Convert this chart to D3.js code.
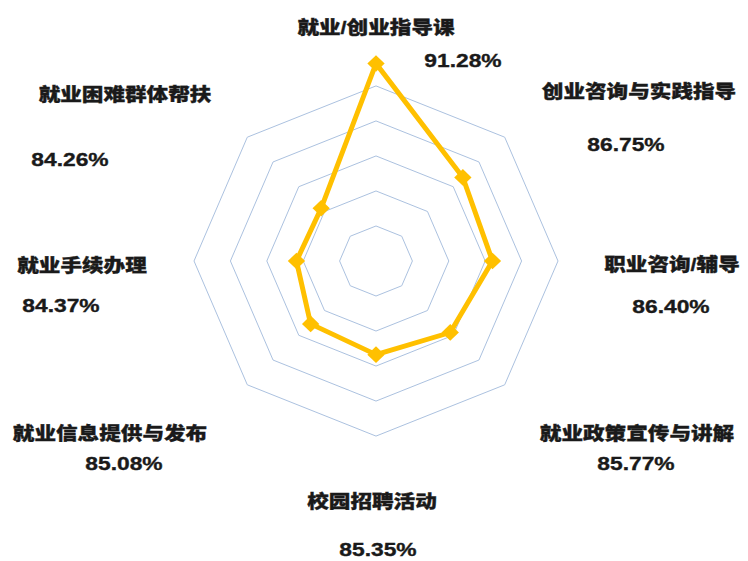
<!DOCTYPE html>
<html>
<head>
<meta charset="utf-8">
<script src="https://cdn.jsdelivr.net/npm/d3@7"></script>
<style>
  html, body { margin: 0; padding: 0; background: #fff; }
  text { font-family: "Liberation Sans", "Noto Sans CJK SC", sans-serif; font-weight: 900; fill: #1a1a1a; stroke: #1a1a1a; stroke-width: 0.35px; }
</style>
</head>
<body>
<div id="root"></div>
<script>
// 数据
var categories = ["就业/创业指导课", "创业咨询与实践指导", "职业咨询/辅导", "就业政策宣传与讲解",
    "校园招聘活动", "就业信息提供与发布", "就业手续办理", "就业困难群体帮扶"];
var values = [91.28, 86.75, 86.40, 85.77, 85.35, 85.08, 84.37, 84.26];
var ringTicks = [82, 84, 86, 88, 90];

// 标签位置（名称中心 x,y / 数值中心 x,y）
var labelPos = [
    [376, 28, 463, 60],
    [639, 92, 626, 144],
    [672, 265, 671, 306],
    [637, 434, 636, 463],
    [372, 502, 378, 549],
    [110, 434, 124, 463],
    [82, 266, 61, 305],
    [125, 95, 70, 159]
];

var width = 748,
    height = 561,
    cx = 376,
    cy = 261;

var svg = d3.select("#root")
    .append("svg")
    .attr("width", width)
    .attr("height", height);

var r = d3.scaleLinear()
    .domain([80, 90])
    .range([0, 182]);

var angle = d3.scalePoint()
    .domain(d3.range(categories.length + 1))
    .range([0, 2 * Math.PI]);

var chart = svg.append("g")
    .attr("transform", "translate(" + cx + "," + cy + ") scale(1,0.962)");

// 网格八边形
var ring = d3.lineRadial()
    .angle(function (d, i) { return angle(i); })
    .radius(function (d) { return r(d); })
    .curve(d3.curveLinearClosed);

chart.append("g")
    .selectAll("path")
    .data(ringTicks)
    .enter()
    .append("path")
    .attr("d", function (t) {
        return ring(categories.map(function () { return t; }));
    })
    .attr("fill", "none")
    .attr("stroke", "#a9c0de")
    .attr("stroke-width", 1);

// 数据折线
var line = d3.lineRadial()
    .angle(function (d, i) { return angle(i); })
    .radius(function (d) { return r(d); })
    .curve(d3.curveLinearClosed);

chart.append("path")
    .datum(values)
    .attr("d", line)
    .attr("fill", "none")
    .attr("stroke", "#ffc000")
    .attr("stroke-width", 5)
    .attr("stroke-linejoin", "round");

chart.append("g")
    .selectAll("path")
    .data(values)
    .enter()
    .append("path")
    .attr("d", d3.symbol().type(d3.symbolSquare).size(150))
    .attr("transform", function (d, i) {
        var a = angle(i);
        return "translate(" + (r(d) * Math.sin(a)) + "," + (-r(d) * Math.cos(a)) + ") rotate(45)";
    })
    .attr("fill", "#ffc000");

// 标签
var labels = svg.append("g")
    .selectAll("g")
    .data(categories)
    .enter()
    .append("g");

labels.append("text")
    .attr("transform", function (d, i) {
        return "translate(" + labelPos[i][0] + "," + labelPos[i][1] + ") scale(1.2,1)";
    })
    .attr("dy", "0.35em")
    .attr("text-anchor", "middle")
    .attr("font-size", 18)
    .text(function (d) { return d; });

labels.append("text")
    .attr("transform", function (d, i) {
        return "translate(" + labelPos[i][2] + "," + labelPos[i][3] + ") scale(1.2,1)";
    })
    .attr("dy", "0.35em")
    .attr("text-anchor", "middle")
    .attr("font-size", 19)
    .text(function (d, i) { return values[i].toFixed(2) + "%"; });
</script>
</body>
</html>
